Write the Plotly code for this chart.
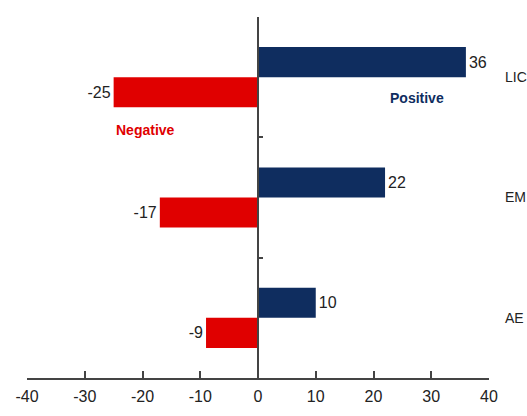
import plotly.graph_objects as go

categories = ["LIC", "EM", "AE"]
positive = [36, 22, 10]
negative = [-25, -17, -9]
x_ticks = [-40, -30, -20, -10, 0, 10, 20, 30, 40]

NAVY = "#0F2D5F"
RED = "#E00000"
FONT = "Liberation Sans, Arial, sans-serif"

pos_idx = list(range(len(categories)))

fig = go.Figure()
fig.add_trace(go.Bar(
    x=positive, y=pos_idx, orientation="h", name="Positive",
    marker=dict(color=NAVY, line=dict(width=0)),
    width=0.25, offset=-0.25,
    text=[str(v) for v in positive], textposition="outside",
    textfont=dict(size=16, color="#222222", family=FONT),
    constraintext="none", cliponaxis=False, showlegend=False,
))
fig.add_trace(go.Bar(
    x=negative, y=pos_idx, orientation="h", name="Negative",
    marker=dict(color=RED, line=dict(width=0)),
    width=0.25, offset=0,
    text=[str(v) for v in negative], textposition="outside",
    textfont=dict(size=16, color="#222222", family=FONT),
    constraintext="none", cliponaxis=False, showlegend=False,
))
# carrier for right-hand category labels
fig.add_trace(go.Scatter(
    x=[0] * len(categories), y=pos_idx, yaxis="y2", mode="markers",
    marker=dict(opacity=0), hoverinfo="skip", showlegend=False,
))

fig.update_layout(
    width=527, height=416,
    margin=dict(l=27, r=38, t=17, b=38, autoexpand=False),
    paper_bgcolor="white", plot_bgcolor="white",
    font=dict(family=FONT, size=15, color="#222222"),
    barmode="overlay",
    xaxis=dict(
        range=[-40, 40], tickvals=x_ticks, ticktext=[str(v) for v in x_ticks],
        showline=True, linecolor="#444444", linewidth=1.5,
        ticks="inside", ticklen=7, tickwidth=1.5, tickcolor="#444444",
        showgrid=False, zeroline=False, automargin=False,
        tickfont=dict(size=16, family=FONT, color="#222222"),
        ticklabelstandoff=3,
    ),
    yaxis=dict(
        range=[2.5, -0.5], anchor="free", position=0.5,
        tickvals=[-0.5, 0.5, 1.5, 2.5], showticklabels=False,
        showline=True, linecolor="#444444", linewidth=1.5,
        ticks="inside", ticklen=4, tickwidth=1.5, tickcolor="#444444",
        showgrid=False, zeroline=False, automargin=False,
    ),
    yaxis2=dict(
        range=[2.5, -0.5], overlaying="y", side="right", anchor="x",
        tickvals=pos_idx, ticktext=categories,
        showline=False, ticks="", showgrid=False, zeroline=False,
        automargin=False,
        tickfont=dict(size=14, family=FONT, color="#222222"),
        ticklabelstandoff=15,
    ),
    annotations=[
        dict(x=27.5, y=0.17, xref="x", yref="y", text="<b>Positive</b>",
             showarrow=False, font=dict(size=14, color=NAVY, family=FONT)),
        dict(x=-19.5, y=0.44, xref="x", yref="y", text="<b>Negative</b>",
             showarrow=False, font=dict(size=14, color=RED, family=FONT)),
    ],
)

fig.write_html(
    "out.html",
    config={"displayModeBar": False},
    post_script="document.body.style.margin='0';document.body.style.overflow='hidden';",
)
